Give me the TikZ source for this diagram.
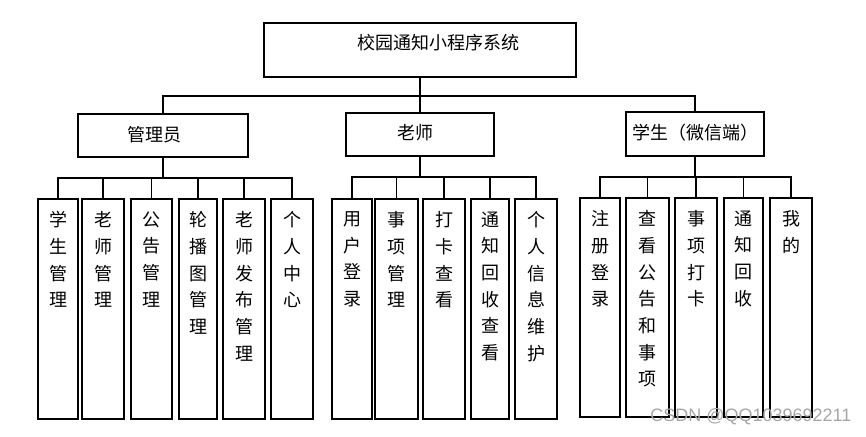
\documentclass[tikz,border=0pt]{standalone}
\usepackage{fontspec}
\newfontfamily\cjk{Noto Sans CJK SC}
\newfontfamily\wmfont{Liberation Sans}
\begin{document}
\begin{tikzpicture}[x=1pt, y=-1pt, line width=1.1pt,
  box/.style={draw, rectangle, inner sep=0pt},
  leaf/.style={box, minimum height=220pt},
  txt/.style={font=\cjk\fontsize{18}{26.7}\selectfont, inner sep=0pt},
  coltxt/.style={txt, align=center, anchor=north}]
\useasboundingbox (0,0) rectangle (866,436);

% top level
\node[box, minimum width=312pt, minimum height=54pt] (root) at (420,50) {};
\node[txt] (title) at (438,43) {校园通知小程序系统};

% second level
\node[box, minimum width=170pt, minimum height=43pt] (adm) at (163,135.5) {};
\node[box, minimum width=148pt, minimum height=43pt] (tea) at (420,134.5) {};
\node[box, minimum width=138pt, minimum height=44pt] (stu) at (695,134) {};
\node[txt] (admtxt) at (154,135) {管理员};
\node[txt] (teatxt) at (415,133) {老师};
\node[txt] (stutxt) at (695,133) {学生（微信端）};

\coordinate (bus0) at (420,96);
\draw (root.south) -- (bus0);
\draw (bus0) -| (adm.north);
\draw (bus0) -- (tea.north);
\draw (bus0) -| (stu.north);

% admin leaves
\node[leaf, minimum width=40pt] (a1) at (58,309) {};
\node[leaf, minimum width=42pt] (a2) at (103,309) {};
\node[leaf, minimum width=41pt] (a3) at (151.5,309) {};
\node[leaf, minimum width=38pt] (a4) at (198,309) {};
\node[leaf, minimum width=42pt] (a5) at (244,309) {};
\node[leaf, minimum width=42pt] (a6) at (292,309) {};
\node[coltxt] (a1txt) at (58,211) {学\\生\\管\\理};
\node[coltxt] (a2txt) at (103,211) {老\\师\\管\\理};
\node[coltxt] (a3txt) at (151.5,211) {公\\告\\管\\理};
\node[coltxt] (a4txt) at (198,211) {轮\\播\\图\\管\\理};
\node[coltxt] (a5txt) at (244,211) {老\\师\\发\\布\\管\\理};
\node[coltxt] (a6txt) at (292,211) {个\\人\\中\\心};

\coordinate (bus1) at (163,178);
\draw (adm.south) -- (bus1);
\draw (bus1) -| (a1.north);
\draw (bus1) -| (a2.north);
\draw (bus1) -| (a3.north);
\draw (bus1) -| (a4.north);
\draw (bus1) -| (a5.north);
\draw (bus1) -| (a6.north);

% teacher leaves
\node[leaf, minimum width=40pt] (t1) at (352,309) {};
\node[leaf, minimum width=43pt] (t2) at (396.5,309) {};
\node[leaf, minimum width=42pt] (t3) at (444,309) {};
\node[leaf, minimum width=38pt] (t4) at (490,309) {};
\node[leaf, minimum width=42pt] (t5) at (536,309) {};
\node[coltxt] (t1txt) at (352,211) {用\\户\\登\\录};
\node[coltxt] (t2txt) at (396.5,211) {事\\项\\管\\理};
\node[coltxt] (t3txt) at (444,211) {打\\卡\\查\\看};
\node[coltxt] (t4txt) at (490,211) {通\\知\\回\\收\\查\\看};
\node[coltxt] (t5txt) at (536,211) {个\\人\\信\\息\\维\\护};

\coordinate (bus2) at (420,177);
\draw (tea.south) -- (bus2);
\draw (bus2) -| (t1.north);
\draw (bus2) -| (t2.north);
\draw (bus2) -| (t3.north);
\draw (bus2) -| (t4.north);
\draw (bus2) -| (t5.north);

% student leaves
\node[leaf, minimum width=40pt, minimum height=219pt] (s1) at (600,307.5) {};
\node[leaf, minimum width=43pt, minimum height=219pt] (s2) at (647.5,307.5) {};
\node[leaf, minimum width=42pt, minimum height=219pt] (s3) at (696,307.5) {};
\node[leaf, minimum width=39pt, minimum height=219pt] (s4) at (743.5,307.5) {};
\node[leaf, minimum width=42pt, minimum height=219pt] (s5) at (791,307.5) {};
\node[coltxt] (s1txt) at (600,210) {注\\册\\登\\录};
\node[coltxt] (s2txt) at (647.5,210) {查\\看\\公\\告\\和\\事\\项};
\node[coltxt] (s3txt) at (696,210) {事\\项\\打\\卡};
\node[coltxt] (s4txt) at (743.5,210) {通\\知\\回\\收};
\node[coltxt] (s5txt) at (791,210) {我\\的};

\coordinate (bus3) at (695,177);
\draw (stu.south) -- (bus3);
\draw (bus3) -| (s1.north);
\draw (bus3) -| (s2.north);
\draw (bus3) -| (s3.north);
\draw (bus3) -| (s4.north);
\draw (bus3) -| (s5.north);

% watermark
\node[anchor=east, inner sep=0pt, text=gray!70, font=\wmfont\fontsize{18}{20}\selectfont] (wm) at (852,417) {CSDN @QQ1039692211};
\end{tikzpicture}
\end{document}
